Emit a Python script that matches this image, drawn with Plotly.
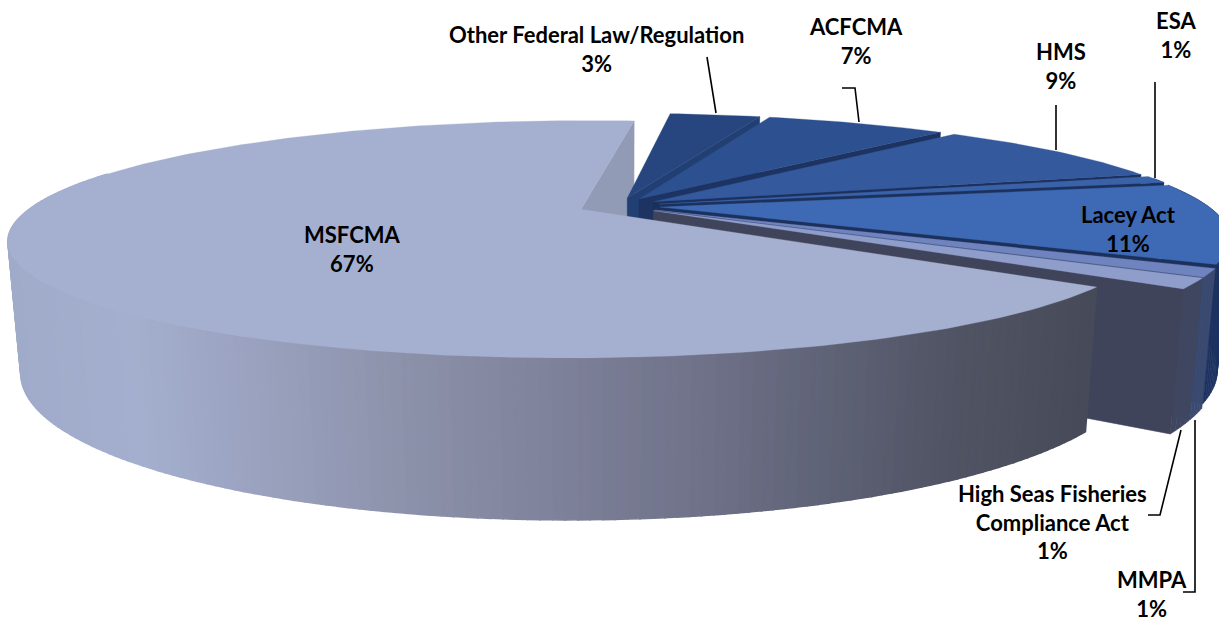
import math
import plotly.graph_objects as go

# ---- data (clockwise from the first slice after MSFCMA's far edge)
categories = ["Other Federal Law/Regulation", "ACFCMA", "HMS", "ESA", "Lacey Act", "MMPA",
              "High Seas Fisheries<br>Compliance Act", "MSFCMA"]
values = [3.33, 6.67, 9, 1, 11, 1.13, 1.37, 66.5]
label_text = ["3%", "7%", "9%", "1%", "11%", "1%", "1%", "67%"]

top_colors = ["#27467f", "#2d5190", "#34599c", "#3a62a9", "#3e69b4", "#6f83bf", "#8f9dcb", "#a5b0d1"]
end_colors = ["#223f73", "#1d3361", "#1c305c", "#1c305c", "#1c305c", "#3a4a70", "#40445a", "#929bb6"]
rim_colors = ["#223f73", "#22386a", "#1f3565", "#1f3463", "#1f3361", "#3a4a70", "#3f4660", "#a5b0d1"]

W, H = 1219, 621
START = 5.9
CX, CY, SX, SY, HZ, K, M, EXPL = 619, 206, 548, 109.5, 126.5, 0.25, 0.02, 0.075


def proj(X, Y, Z=0.0):
    w = 1 - K * Y + M * Z
    return CX + SX * X / w, CY + (SY * Y + HZ * Z) / w


def pts(mid, a, r=1.0, Z=0.0):
    dx, dy = EXPL * math.sin(math.radians(mid)), -EXPL * math.cos(math.radians(mid))
    return proj(dx + r * math.sin(math.radians(a)), dy - r * math.cos(math.radians(a)), Z)


def poly(fig, p, color, line=0.6):
    xs = [q[0] for q in p] + [p[0][0]]
    ys = [q[1] for q in p] + [p[0][1]]
    fig.add_trace(go.Scatter(x=xs, y=ys, mode="lines", fill="toself", fillcolor=color,
                             line=dict(color=color, width=line), hoverinfo="skip", showlegend=False))


def hexmix(c1, c2, t):
    a = [int(c1[i:i + 2], 16) for i in (1, 3, 5)]
    b = [int(c2[i:i + 2], 16) for i in (1, 3, 5)]
    return "#%02x%02x%02x" % tuple(round(a[i] + (b[i] - a[i]) * t) for i in range(3))


GRAD = [(0, "#a0abca"), (130, "#a4afcf"), (400, "#8d92ab"), (700, "#6f7289"), (950, "#505464"), (1090, "#474b59")]


def grad(x):
    for (x0, c0), (x1, c1) in zip(GRAD, GRAD[1:]):
        if x <= x1:
            return hexmix(c0, c1, max(0, (x - x0) / (x1 - x0)))
    return GRAD[-1][1]


fig = go.Figure()

total = sum(values)
spans = []
a = START
for v in values:
    b = a + 360 * v / total
    spans.append((a, b, (a + b) / 2))
    a = b


def arc(a0, a1, mid, Z=0.0, n=None):
    n = n or max(3, int(abs(a1 - a0) / 1.0))
    return [pts(mid, a0 + (a1 - a0) * i / n, 1.0, Z) for i in range(n + 1)]


# far cut face of the big slice, seen behind the others
a0, a1, mid = spans[-1]
poly(fig, [pts(mid, a1, 0, 0), pts(mid, a1, 1, 0), pts(mid, a1, 1, 1), pts(mid, a1, 0, 1)], end_colors[-1])

# small slices, back to front
for i in range(len(values) - 1):
    a0, a1, mid = spans[i]
    n = max(3, int(a1 - a0))
    for j in range(n):
        t0, t1 = a0 + (a1 - a0) * j / n, a0 + (a1 - a0) * (j + 1) / n
        if t0 > 75:
            poly(fig, [pts(mid, t0, 1, 0), pts(mid, t1, 1, 0), pts(mid, t1, 1, 1), pts(mid, t0, 1, 1)], rim_colors[i])
    poly(fig, [pts(mid, a1, 0, 0), pts(mid, a1, 1, 0), pts(mid, a1, 1, 1), pts(mid, a1, 0, 1)], end_colors[i])
    poly(fig, [pts(mid, a0, 0, 0)] + arc(a0, a1, mid), top_colors[i], line=0.3)

# the big slice: gradient wall, then top
a0, a1, mid = spans[-1]
n = 240
for j in range(n):
    t0, t1 = a0 + (a1 - a0) * j / n, a0 + (a1 - a0) * (j + 1) / n
    if t0 < 290:
        q = [pts(mid, t0, 1, 0), pts(mid, t1, 1, 0), pts(mid, t1, 1, 1), pts(mid, t0, 1, 1)]
        poly(fig, q, grad((q[0][0] + q[1][0]) / 2), line=1.5)
poly(fig, [pts(mid, a0, 0, 0)] + arc(a0, a1, mid), top_colors[-1], line=0.3)

# leader lines
leaders = [
    [(707, 57), (716, 113)],
    [(842, 88), (855, 88), (859, 122)],
    [(1056, 105), (1056, 150)],
    [(1155, 82), (1155, 178)],
    [(1148, 515), (1160, 515), (1181, 430)],
    [(1183, 592), (1195, 592), (1195, 420)],
]
for L in leaders:
    fig.add_trace(go.Scatter(x=[p[0] for p in L], y=[p[1] for p in L], mode="lines",
                             line=dict(color="black", width=1.6), hoverinfo="skip", showlegend=False))

label_pos = [(596, 49), (856, 41), (1061, 66), (1176, 35), (1128, 229), (1152, 594), (1052, 522), (352, 249)]
ann = [dict(x=px, y=py, text="<b>%s<br>%s</b>" % (c, t), showarrow=False, xanchor="center", yanchor="middle",
            font=dict(family="Lato", size=22, color="black"), align="center")
       for c, t, (px, py) in zip(categories, label_text, label_pos)]

fig.update_layout(width=W, height=H, margin=dict(l=0, r=0, t=0, b=0), paper_bgcolor="white", plot_bgcolor="white",
                  showlegend=False, annotations=ann,
                  xaxis=dict(range=[0, W], visible=False, fixedrange=True),
                  yaxis=dict(range=[H, 0], visible=False, fixedrange=True))
fig.write_html("out.html", config={"displayModeBar": False}, post_script="document.body.style.margin='0';")
